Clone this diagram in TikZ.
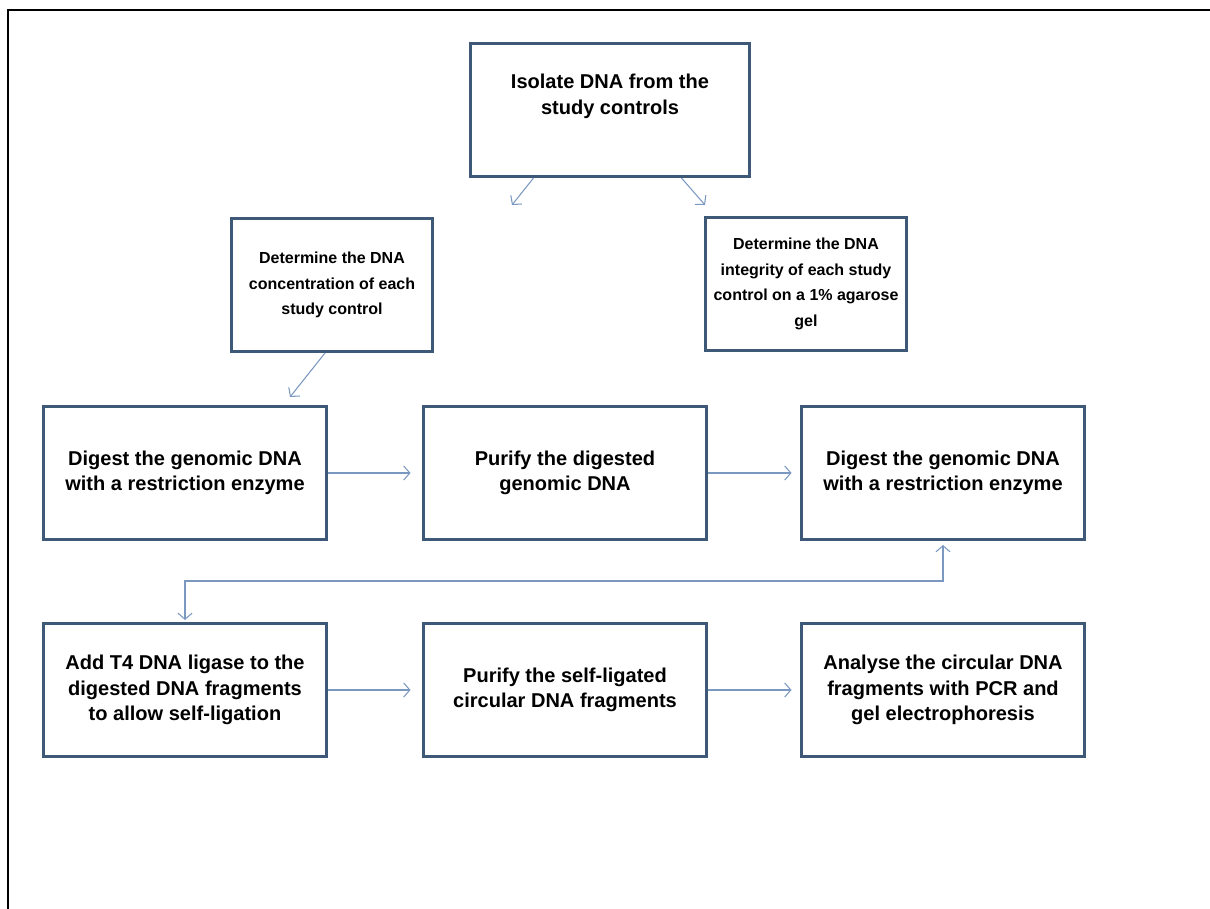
\documentclass[tikz,border=0pt]{standalone}
\usepackage{fontspec}
\setmainfont{Liberation Sans}
\usetikzlibrary{arrows.meta,calc}
\definecolor{boxblue}{RGB}{62,88,120}
\definecolor{linkblue}{RGB}{122,152,192}
\begin{document}
\begin{tikzpicture}[x=0.02cm,y=-0.02cm,>={Straight Barb[length=3.5pt,width=8pt]},
  stepbox/.style={draw=boxblue,line width=1.7pt,align=center,inner sep=0pt,
    font=\fontsize{11.4}{14.4}\selectfont\bfseries,minimum height=2.66cm},
  wide/.style={stepbox,minimum width=5.68cm},
  narrow/.style={stepbox,minimum width=4.02cm,font=\fontsize{9.1}{14.6}\selectfont\bfseries},
  link/.style={draw=linkblue,line width=0.6pt,->}]

\useasboundingbox (0,0) rectangle (1210,909);
\draw[line width=1.1pt] (8,909)--(8,10)--(1210,10);

\node[stepbox,minimum width=5.6cm,text depth=18pt] (isolate) at (610,110) {Isolate DNA from the\\study controls};
\node[narrow] (conc) at (332,285) {Determine the DNA\\concentration of each\\study control};
\node[narrow] (integ) at (806,284) {Determine the DNA\\integrity of each study\\control on a 1\% agarose\\gel};

\node[wide] (digA) at (185,473) {Digest the genomic DNA\\with a restriction enzyme};
\node[wide] (purA) at (565,473) {Purify the digested\\genomic DNA};
\node[wide] (digB) at (943,473) {Digest the genomic DNA\\with a restriction enzyme};

\node[wide] (ligate) at (185,690) {Add T4 DNA ligase to the\\digested DNA fragments\\to allow self-ligation};
\node[wide] (purB) at (565,690) {Purify the self-ligated\\circular DNA fragments};
\node[wide] (analyse) at (943,690) {Analyse the circular DNA\\fragments with PCR and\\gel electrophoresis};

\coordinate (toconc) at (512,205);
\coordinate (tointeg) at (705,205);
\coordinate (todig) at (290,397);

\draw[link] ($(isolate.south west)+(65,0)$) -- (toconc);
\draw[link] ($(isolate.south east)+(-70,0)$) -- (tointeg);
\draw[link] ($(conc.south west)+(95,0)$) -- (todig);

\draw[link] (digA.east) -- ($(purA.west)+(-11,0)$);
\draw[link] (purA.east) -- ($(digB.west)+(-8,0)$);
\draw[link,<->] ($(digB.south)+(0,4)$) |- ($(ligate.north)+(0,-41)$) -- ($(ligate.north)+(0,-2)$);

\draw[link] (ligate.east) -- ($(purB.west)+(-11,0)$);
\draw[link] (purB.east) -- ($(analyse.west)+(-8,0)$);
\end{tikzpicture}
\end{document}
